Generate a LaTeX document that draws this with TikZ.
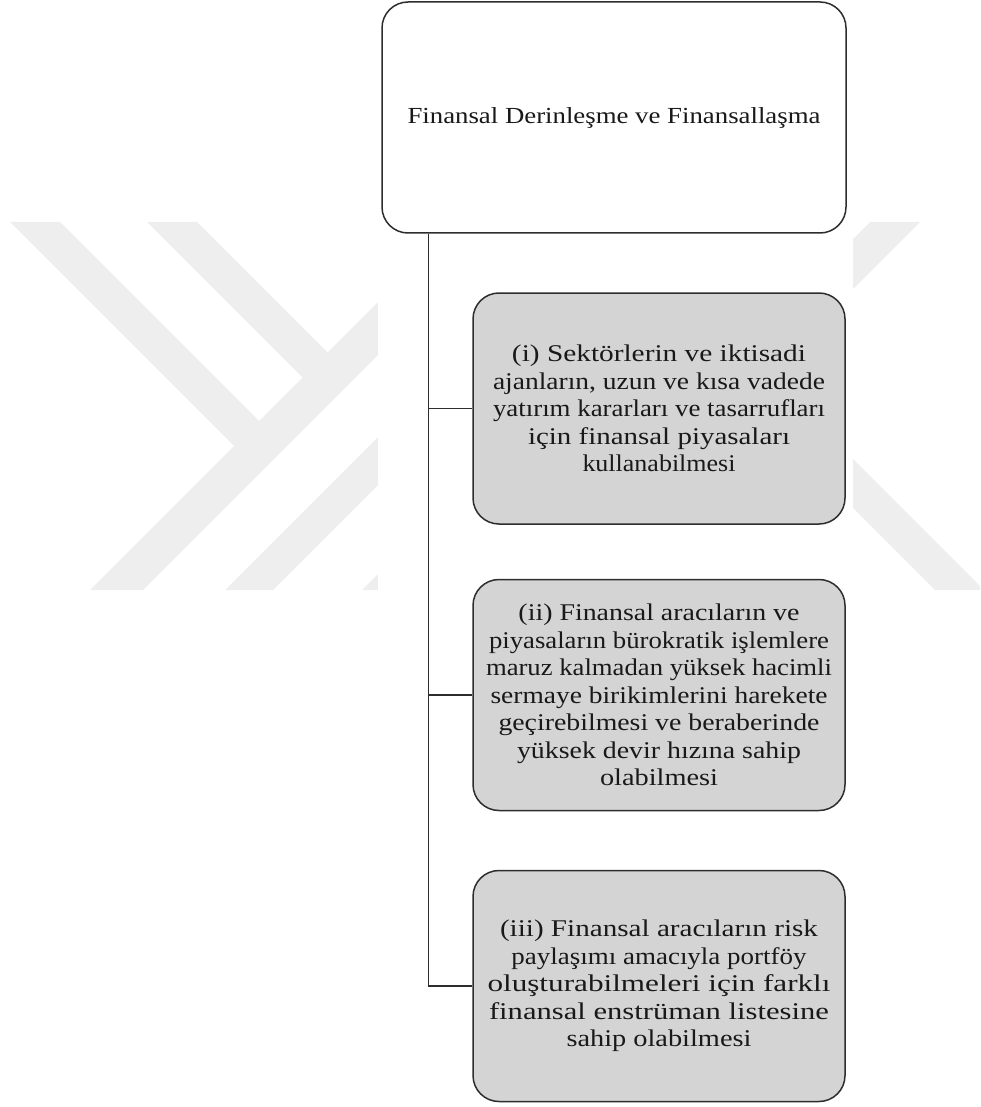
\documentclass[tikz,border=0pt]{standalone}
\usepackage{fontspec}
\setmainfont{Liberation Serif}
\usepackage{graphicx}
\definecolor{wmgray}{RGB}{238,238,238}
\definecolor{boxgray}{RGB}{212,212,212}
\definecolor{edge}{RGB}{45,45,45}
\definecolor{txt}{RGB}{25,25,25}
\newcommand{\fl}[2]{\resizebox{#1pt}{\height}{#2}}
\begin{document}
\begin{tikzpicture}[x=1pt,y=-1pt,
  wm/.style={fill=wmgray,draw=none},
  rootbox/.style={draw=edge,line width=1.5pt,rounded corners=26pt,fill=white,
    minimum width=464pt,minimum height=231pt,inner sep=0pt,align=center,text=txt,
    font={\fontsize{23}{27}\selectfont}},
  itembox/.style={draw=edge,line width=1.5pt,rounded corners=26pt,fill=boxgray,
    minimum width=372pt,minimum height=231pt,inner sep=0pt,align=center,text=txt,
    font={\fontsize{24}{27.5}\selectfont\lineskiplimit=-100pt}},
  conn/.style={draw=edge,line width=1.4pt}]
\useasboundingbox (0,0) rectangle (980,1107);
\clip (0,0) rectangle (980,1107);
% watermark
\fill[wm] (10,222) -- (60,222) -- (279,441) -- (254,466) -- cycle;
\fill[wm] (147,222) -- (197,222) -- (347.5,372.5) -- (322.5,397.5) -- cycle;
\fill[wm] (90,590) -- (143,590) -- (511,222) -- (458,222) -- cycle;
\fill[wm] (225,590) -- (273,590) -- (641,222) -- (593,222) -- cycle;
\fill[wm] (362,590) -- (410,590) -- (778,222) -- (730,222) -- cycle;
\fill[wm] (870,222) -- (920,222) -- (800,342) -- (800,292) -- cycle;
\fill[wm] (800,406) -- (800,455) -- (935,590) -- (984,590) -- cycle;
\fill[white] (378,0) rectangle (853,1107);
% nodes
\node[rootbox] (root) at (614,117.5) {\fl{413}{Finansal Derinleşme ve Finansallaşma}};
\node[itembox] (b1) at (659,408.5) {\fl{294}{(i) Sektörlerin ve iktisadi}\\
  \fl{332}{ajanların, uzun ve kısa vadede}\\
  \fl{332}{yatırım kararları ve tasarrufları}\\
  \fl{262}{için finansal piyasaları}\\
  \fl{153}{kullanabilmesi}};
\node[itembox] (b2) at (659,695) {\fl{281}{(ii) Finansal aracıların ve}\\
  \fl{340}{piyasaların bürokratik işlemlere}\\
  \fl{346}{maruz kalmadan yüksek hacimli}\\
  \fl{337}{sermaye birikimlerini harekete}\\
  \fl{321}{geçirebilmesi ve beraberinde}\\
  \fl{284}{yüksek devir hızına sahip}\\
  \fl{118}{olabilmesi}};
\node[itembox] (b3) at (659,986) {\fl{318}{(iii) Finansal aracıların risk}\\
  \fl{295}{paylaşımı amacıyla portföy}\\
  \fl{343}{oluşturabilmeleri için farklı}\\
  \fl{340}{finansal enstrüman listesine}\\
  \fl{185}{sahip olabilmesi}};
% connectors
\coordinate (t0) at (428.5,0);
\draw[conn] (root.south -| t0) -- (t0 |- b3.west) -- (b3.west);
\draw[conn] (t0 |- b1.west) -- (b1.west);
\draw[conn] (t0 |- b2.west) -- (b2.west);
\end{tikzpicture}
\end{document}
